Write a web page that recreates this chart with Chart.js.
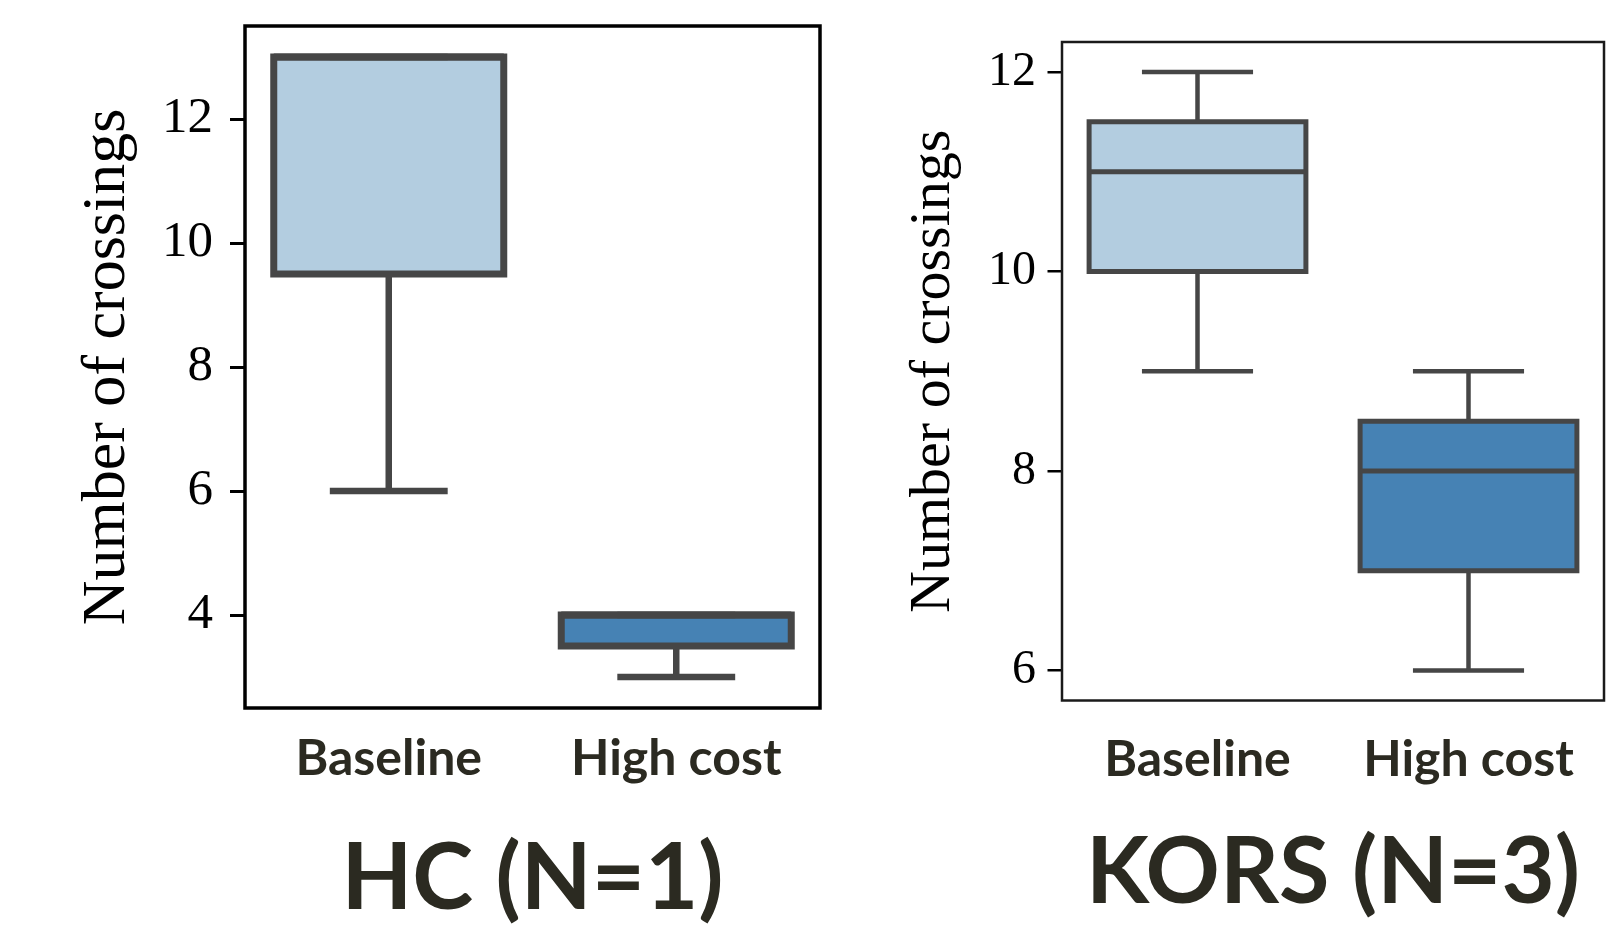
<!DOCTYPE html>
<html>
<head>
<meta charset="utf-8">
<title>Number of crossings</title>
<script src="https://cdn.jsdelivr.net/npm/chart.js@4/dist/chart.umd.min.js"></script>
<style>
    html, body { margin: 0; padding: 0; background: #ffffff; }
    body { width: 1615px; height: 933px; position: relative; overflow: hidden; }
    canvas { position: absolute; top: 0; }
    #hcChart { left: 0; }
    #korsChart { left: 830px; }
</style>
</head>
<body>
<canvas id="hcChart" width="830" height="933"></canvas>
<canvas id="korsChart" width="785" height="933"></canvas>
<script>
const categories = ['Baseline', 'High cost'];
const yTitle = 'Number of crossings';

// HC (N=1)
const hcTitle = 'HC (N=1)';
const hcLow = [6, 3];
const hcQ1 = [9.5, 3.5];
const hcMedian = [13, 4];
const hcQ3 = [13, 4];
const hcHigh = [13, 4];
const hcTicks = [4, 6, 8, 10, 12];

// KORS (N=3)
const korsTitle = 'KORS (N=3)';
const korsLow = [9, 6];
const korsQ1 = [10, 7];
const korsMedian = [11, 8];
const korsQ3 = [11.5, 8.5];
const korsHigh = [12, 9];
const korsTicks = [6, 8, 10, 12];

const boxColors = ['#b3cde0', '#4682b4'];
const edgeColor = '#464646';
const labelColor = '#2b2a21';
const boxWidth = 0.8;   // in category units, like seaborn
const capWidth = 0.41;

// Box outline around the plot area (matplotlib style frame)
const framePlugin = {
    id: 'frame',
    afterDraw(chart, args, opts) {
        const { ctx, chartArea: a } = chart;
        ctx.save();
        ctx.strokeStyle = opts.color;
        ctx.lineWidth = opts.width;
        ctx.strokeRect(a.left, a.top, a.right - a.left, a.bottom - a.top);
        ctx.restore();
    }
};

// vertical whisker segments, broken with nulls
function whiskerPoints(low, q1, q3, high)
{
    let pts = [];
    low.forEach((v, i) => {
        pts.push({ x: i, y: v }, { x: i, y: q1[i] }, { x: i, y: null });
        pts.push({ x: i, y: q3[i] }, { x: i, y: high[i] }, { x: i, y: null });
    });
    return pts;
}

// short horizontal segments centred on each category
function hLinePoints(values, half)
{
    let pts = [];
    values.forEach((v, i) => {
        pts.push({ x: i - half, y: v }, { x: i + half, y: v }, { x: i, y: null });
    });
    return pts;
}

// closed outline of each box, stroke centred on the edges
function outlinePoints(q1, q3, half)
{
    let pts = [];
    q1.forEach((v, i) => {
        pts.push(
            { x: i - half, y: v }, { x: i + half, y: v },
            { x: i + half, y: q3[i] }, { x: i - half, y: q3[i] },
            { x: i - half, y: v }, { x: i, y: null }
        );
    });
    return pts;
}

function lineDataset(data, width, order, cap)
{
    return {
        type: 'line',
        xAxisID: 'xl',
        data: data,
        borderColor: edgeColor,
        borderWidth: width,
        borderCapStyle: cap || 'butt',
        borderJoinStyle: 'miter',
        pointRadius: 0,
        spanGaps: false,
        tension: 0,
        order: order
    };
}

function makeBoxChart(canvasId, s)
{
    const span = Math.max(...s.high) - Math.min(...s.low);
    const yMin = Math.min(...s.low) - span * 0.05;
    const yMax = Math.max(...s.high) + span * 0.05;

    return new Chart(document.getElementById(canvasId), {
        type: 'bar',
        data: {
            labels: categories,
            datasets: [
                {
                    xAxisID: 'x',
                    data: categories.map((c, i) => [s.q1[i], s.q3[i]]),
                    backgroundColor: boxColors,
                    borderWidth: 0,
                    grouped: false,
                    barPercentage: boxWidth,
                    categoryPercentage: 1,
                    order: 3
                },
                lineDataset(whiskerPoints(s.low, s.q1, s.q3, s.high), s.whiskerLine, 2),
                lineDataset(hLinePoints(s.low, capWidth / 2).concat(hLinePoints(s.high, capWidth / 2)), s.whiskerLine, 2),
                lineDataset(outlinePoints(s.q1, s.q3, boxWidth / 2), s.boxLine, 1, 'square'),
                lineDataset(hLinePoints(s.median, boxWidth / 2), s.boxLine, 0)
            ]
        },
        options: {
            responsive: false,
            animation: false,
            layout: { padding: { top: s.padTop, right: s.padRight, left: 0, bottom: 0 } },
            scales: {
                x: {
                    type: 'category',
                    offset: true,
                    grid: { display: false, drawTicks: false },
                    border: { display: false },
                    ticks: {
                        color: labelColor,
                        padding: s.xLabelPad,
                        font: { family: 'Lato', weight: 'bold', size: 50 }
                    },
                    afterFit: (scale) => {
                        scale.height = s.xAxisHeight;
                        scale.paddingLeft = 0;
                        scale.paddingRight = 0;
                    }
                },
                xl: {
                    type: 'linear',
                    display: false,
                    offset: false,
                    grid: { offset: false },
                    min: -0.5,
                    max: 1.5
                },
                y: {
                    min: yMin,
                    max: yMax,
                    afterBuildTicks: (scale) => { scale.ticks = s.ticks.map(v => ({ value: v })); },
                    grid: {
                        drawOnChartArea: false,
                        drawTicks: true,
                        tickLength: s.tickLen,
                        color: '#000000',
                        lineWidth: s.tickWidth
                    },
                    border: { display: false },
                    ticks: {
                        color: '#000000',
                        padding: s.tickPad,
                        font: { family: 'Liberation Serif', size: s.tickFont }
                    },
                    title: {
                        display: true,
                        text: yTitle,
                        color: '#000000',
                        padding: { top: s.yTitlePad, bottom: 0 },
                        font: { family: 'Liberation Serif', size: s.yTitleFont, lineHeight: 1.2 }
                    },
                    afterFit: (scale) => {
                        scale.width = s.yAxisWidth;
                        scale.paddingTop = 0;
                        scale.paddingBottom = 0;
                    }
                }
            },
            plugins: {
                legend: { display: false },
                tooltip: { enabled: false },
                title: {
                    display: true,
                    text: s.title,
                    position: 'bottom',
                    fullSize: false,
                    color: labelColor,
                    padding: { top: 0, bottom: s.titlePadBottom },
                    font: { family: 'Lato', weight: 'bold', size: 92, lineHeight: 1 }
                },
                frame: { color: s.frameColor, width: s.frameWidth }
            }
        },
        plugins: [framePlugin]
    });
}

makeBoxChart('hcChart', {
    title: hcTitle, low: hcLow, q1: hcQ1, median: hcMedian, q3: hcQ3, high: hcHigh, ticks: hcTicks,
    padTop: 26, padRight: 10, yAxisWidth: 245, xAxisHeight: 125, xLabelPad: 21, titlePadBottom: 8,
    boxLine: 7, whiskerLine: 6.5,
    tickLen: 15, tickWidth: 3, tickPad: 17, tickFont: 51,
    yTitleFont: 62, yTitlePad: 71,
    frameColor: '#000000', frameWidth: 3.5
});

makeBoxChart('korsChart', {
    title: korsTitle, low: korsLow, q1: korsQ1, median: korsMedian, q3: korsQ3, high: korsHigh, ticks: korsTicks,
    padTop: 42, padRight: 11, yAxisWidth: 232, xAxisHeight: 126.5, xLabelPad: 29.5, titlePadBottom: 14,
    boxLine: 5, whiskerLine: 4.5,
    tickLen: 14.5, tickWidth: 2.5, tickPad: 11.5, tickFont: 48,
    yTitleFont: 58, yTitlePad: 68.6,
    frameColor: '#1a1a1a', frameWidth: 2.5
});
</script>
</body>
</html>
